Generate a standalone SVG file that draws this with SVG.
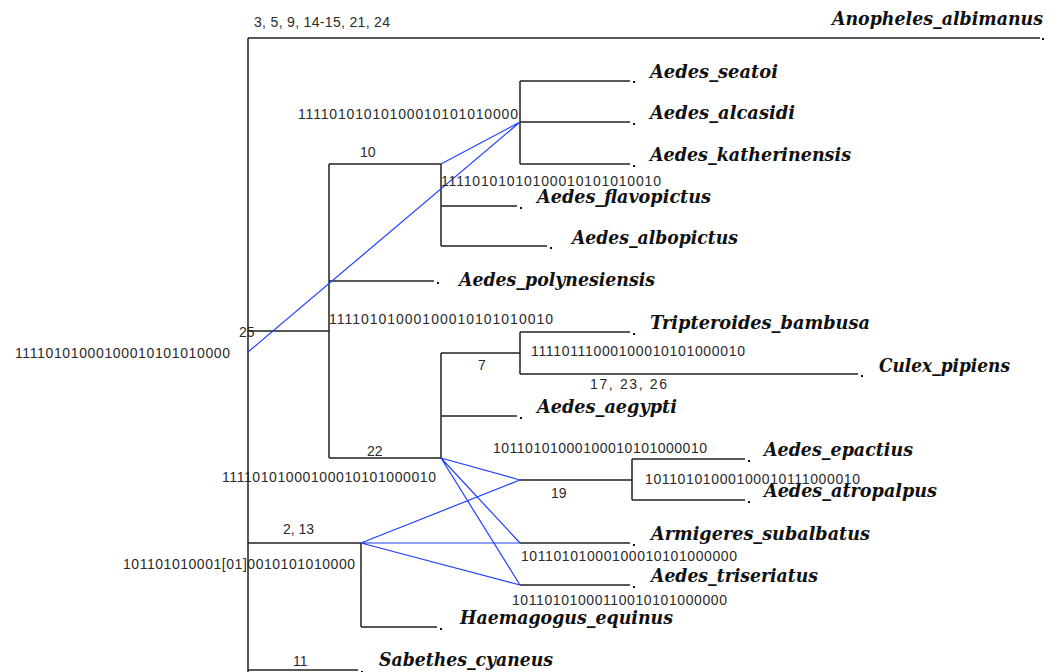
<svg xmlns="http://www.w3.org/2000/svg" width="1063" height="672" viewBox="0 0 1063 672">
  <style>
    .br { fill: none; stroke: #222; stroke-width: 1.5; }
    .hm { fill: none; stroke: #2040ff; stroke-width: 1.2; }
    .tx { font-family: "DejaVu Serif", "Liberation Serif", serif; font-weight: bold; font-style: italic; font-size: 18px; fill: #111; }
    .lb { font-family: "Liberation Sans", Arial, sans-serif; font-size: 14px; fill: #2a2a2a; }
    .dot { fill: #111; }
  </style>
  <rect width="1063" height="672" fill="#fff"/>

  <!-- tree branches -->
  <g id="connectors">
    <path class="br" d="M248,38 H1040 M248,38 V672"/>
    <path class="br" d="M248,331 H329 M329,164 V458"/>
    <path class="br" d="M329,164 H441 M441,164 V246 M441,206 H517 M441,246 H547"/>
    <path class="br" d="M520,81 V164 M520,81 H630 M520,122 H630 M520,164 H630"/>
    <path class="br" d="M329,281 H434"/>
    <path class="br" d="M329,458 H441 M441,353 V458 M441,353 H520 M520,332 V374 M520,332 H630 M520,374 H858 M441,416 H517"/>
    <path class="br" d="M520,480 H632 M632,459 V500 M632,459 H745 M632,500 H745"/>
    <path class="br" d="M520,543 H630 M520,585 H630"/>
    <path class="br" d="M248,543 H361 M361,543 V627 M361,627 H437"/>
    <path class="br" d="M248,670 H358"/>
    <!-- homoplasy links -->
    <path class="hm" d="M248,352 L520,122 M441,164 L520,122"/>
    <path class="hm" d="M441,458 L520,480 M441,458 L520,543 M441,458 L520,585"/>
    <path class="hm" d="M361,543 L520,480 M361,543 L520,543 M361,543 L520,585"/>
  </g>

  <!-- branch labels -->
  <g id="branch-labels">
    <text class="lb" x="254" y="27" textLength="136">3, 5, 9, 14-15, 21, 24</text>
    <text class="lb" x="298" y="119" textLength="220">11110101010100010101010000</text>
    <text class="lb" x="360" y="157">10</text>
    <text class="lb" x="441" y="186" textLength="220">11110101010100010101010010</text>
    <text class="lb" x="239" y="337">25</text>
    <text class="lb" x="15" y="358" textLength="215">11110101000100010101010000</text>
    <text class="lb" x="329" y="324" textLength="224">11110101000100010101010010</text>
    <text class="lb" x="531" y="356" textLength="214">11110111000100010101000010</text>
    <text class="lb" x="478" y="370">7</text>
    <text class="lb" x="590" y="389" textLength="77">17, 23, 26</text>
    <text class="lb" x="367" y="456">22</text>
    <text class="lb" x="493" y="453" textLength="214">10110101000100010101000010</text>
    <text class="lb" x="222" y="482" textLength="214">11110101000100010101000010</text>
    <text class="lb" x="551" y="498">19</text>
    <text class="lb" x="645" y="484" textLength="215">10110101000100010111000010</text>
    <text class="lb" x="283" y="534">2, 13</text>
    <text class="lb" x="123" y="569" textLength="232">101101010001[01]0010101010000</text>
    <text class="lb" x="521" y="561" textLength="216">10110101000100010101000000</text>
    <text class="lb" x="512" y="605" textLength="215">10110101000110010101000000</text>
    <text class="lb" x="293" y="666">11</text>
  </g>

  <!-- terminal taxa -->
  <g id="Anopheles_albimanus"><rect class="dot" x="1042" y="38" width="2" height="2"/><text class="tx" x="832" y="25" textLength="211" lengthAdjust="spacingAndGlyphs">Anopheles_albimanus</text></g>
  <g id="Aedes_seatoi"><rect class="dot" x="633" y="81" width="2" height="2"/><text class="tx" x="650" y="78" textLength="128" lengthAdjust="spacingAndGlyphs">Aedes_seatoi</text></g>
  <g id="Aedes_alcasidi"><rect class="dot" x="633" y="123" width="2" height="2"/><text class="tx" x="650" y="119" textLength="145" lengthAdjust="spacingAndGlyphs">Aedes_alcasidi</text></g>
  <g id="Aedes_katherinensis"><rect class="dot" x="633" y="165" width="2" height="2"/><text class="tx" x="650" y="161" textLength="201" lengthAdjust="spacingAndGlyphs">Aedes_katherinensis</text></g>
  <g id="Aedes_flavopictus"><rect class="dot" x="520" y="207" width="2" height="2"/><text class="tx" x="537" y="203" textLength="174" lengthAdjust="spacingAndGlyphs">Aedes_flavopictus</text></g>
  <g id="Aedes_albopictus"><rect class="dot" x="550" y="247" width="2" height="2"/><text class="tx" x="572" y="244" textLength="166" lengthAdjust="spacingAndGlyphs">Aedes_albopictus</text></g>
  <g id="Aedes_polynesiensis"><rect class="dot" x="437" y="282" width="2" height="2"/><text class="tx" x="459" y="286" textLength="196" lengthAdjust="spacingAndGlyphs">Aedes_polynesiensis</text></g>
  <g id="Tripteroides_bambusa"><rect class="dot" x="633" y="333" width="2" height="2"/><text class="tx" x="650" y="329" textLength="220" lengthAdjust="spacingAndGlyphs">Tripteroides_bambusa</text></g>
  <g id="Culex_pipiens"><rect class="dot" x="861" y="375" width="2" height="2"/><text class="tx" x="879" y="372" textLength="131" lengthAdjust="spacingAndGlyphs">Culex_pipiens</text></g>
  <g id="Aedes_aegypti"><rect class="dot" x="520" y="417" width="2" height="2"/><text class="tx" x="537" y="413" textLength="140" lengthAdjust="spacingAndGlyphs">Aedes_aegypti</text></g>
  <g id="Aedes_epactius"><rect class="dot" x="748" y="460" width="2" height="2"/><text class="tx" x="764" y="456" textLength="149" lengthAdjust="spacingAndGlyphs">Aedes_epactius</text></g>
  <g id="Aedes_atropalpus"><rect class="dot" x="748" y="501" width="2" height="2"/><text class="tx" x="764" y="497" textLength="173" lengthAdjust="spacingAndGlyphs">Aedes_atropalpus</text></g>
  <g id="Armigeres_subalbatus"><rect class="dot" x="633" y="544" width="2" height="2"/><text class="tx" x="651" y="540" textLength="219" lengthAdjust="spacingAndGlyphs">Armigeres_subalbatus</text></g>
  <g id="Aedes_triseriatus"><rect class="dot" x="633" y="586" width="2" height="2"/><text class="tx" x="651" y="582" textLength="167" lengthAdjust="spacingAndGlyphs">Aedes_triseriatus</text></g>
  <g id="Haemagogus_equinus"><rect class="dot" x="440" y="628" width="2" height="2"/><text class="tx" x="460" y="624" textLength="213" lengthAdjust="spacingAndGlyphs">Haemagogus_equinus</text></g>
  <g id="Sabethes_cyaneus"><rect class="dot" x="361" y="671" width="2" height="2"/><text class="tx" x="379" y="666" textLength="174" lengthAdjust="spacingAndGlyphs">Sabethes_cyaneus</text></g>
</svg>
